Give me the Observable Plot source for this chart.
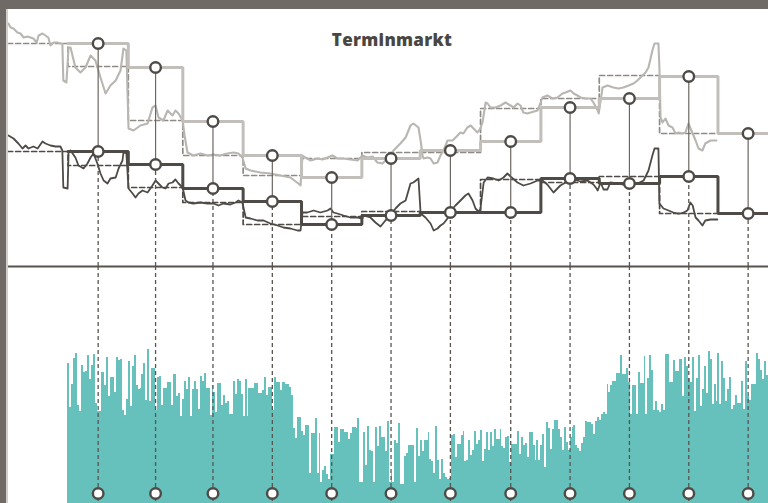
<!DOCTYPE html>
<html>
<head>
<meta charset="utf-8">
<script src="https://cdn.jsdelivr.net/npm/d3@7"></script>
<script src="https://cdn.jsdelivr.net/npm/@observablehq/plot@0.6"></script>
<style>
  html, body { margin: 0; padding: 0; }
  body { width: 768px; height: 503px; background: #6f6a65; position: relative; overflow: hidden; }
  #panel { position: absolute; left: 6px; top: 9px; width: 762px; height: 494px; background: #fff;
           border-left: 2px solid #d2cfcb; box-sizing: border-box; overflow: hidden; }
  #upper { position: absolute; left: 0; top: 0; }
  #lower { position: absolute; left: 0; top: 257px; }
  #title { position: absolute; top: 22px; left: 384px; transform: translateX(-50%);
           font-family: "Open Sans", Lato, sans-serif; font-weight: 800; font-size: 17px; line-height: 17px;
           color: #4a4642; white-space: nowrap; letter-spacing: 0.3px; }
</style>
</head>
<body>
<div id="panel">
  <div id="lower"></div>
  <div id="upper"></div>
  <div id="title">Terminmarkt</div>
</div>
<script>
const YEAR = 2019;
// ---- monthly values, Jan..Dec (thick steps) ----
const lightSpot    = [111.5, 99.5, 72.5, 55.5, 44.5, 54, 58, 62.5, 79.5, 84, 95, 66.5];
const darkSpot     = [57.5, 51, 39, 32.5, 21, 25.5, 27, 27, 44, 41.5, 45, 26.5];
// forward (dashed) prices, traded in the month before: Dec(prev)..Nov
const lightForward = [111.5, 100, 73, 55.5, 45.5, 54, 57, 57, 79, 84, 95.5, 66.5];
const darkForward  = [57.5, 50.5, 39.5, 32, 21, 25, 27.5, 27, 43.5, 42, 45, 26.5];

// ---- daily price traces [days since 1 Jan, price] ----
const lightDaily = [[-30.6,121.5],[-29.5,119.5],[-28.0,119],[-26.0,117],[-24.4,116.5],[-22.8,114.5],[-20.8,115],[-19.3,114.5],[-17.8,114],[-16.1,112],[-15.1,115.5],[-13.1,116.5],[-11.6,115.5],[-10.1,114.5],[-9.0,110.5],[-7.4,112],[-5.4,112],[-3.9,111.5],[-2.9,111.5],[-2.4,93],[-0.8,92],[0.3,109.5],[1.3,109.5],[3.8,99.5],[6.4,97],[9.0,99.5],[11.6,105.5],[14.1,103],[16.7,94.5],[19.3,86.5],[21.8,90.5],[24.5,93],[27.0,98],[28.5,109],[30.0,108],[31.1,69],[33.7,68],[37.2,70.5],[40.9,71.5],[43.4,79.5],[45.0,80.5],[46.5,74.5],[49.0,73],[51.2,78],[53.7,75.5],[55.2,78],[56.8,76.5],[58.9,73],[59.9,65.5],[61.4,57],[64.4,55.5],[68.1,56.5],[71.7,55.5],[74.8,56],[78.3,55.5],[81.9,56.5],[85.1,57],[87.6,56.5],[89.6,54.5],[91.3,49],[93.8,48],[98.9,47],[104.0,46.5],[109.2,45.5],[114.3,44.5],[118.4,41.5],[119.5,40.5],[120.5,55.5],[122.0,54.5],[124.7,53],[128.2,54],[130.8,53.5],[133.4,54.5],[135.9,55.5],[138.4,54],[141.6,54],[145.1,53.5],[148.8,53],[151.3,55.5],[153.9,54.5],[156.5,55],[159.0,52],[161.6,51.5],[164.2,54],[167.3,58],[170.8,61.5],[173.5,64.5],[176.0,70.5],[177.5,71.5],[180.1,69.5],[181.2,63],[182.2,55.5],[182.7,54],[184.7,54.5],[186.3,54],[187.9,51.5],[189.9,52],[191.4,55.5],[193.0,58],[195.0,63],[197.6,63],[200.2,65.5],[201.7,67],[203.2,66.5],[205.2,69.5],[206.9,70.5],[208.4,69],[210.4,67],[211.9,69],[213.0,72],[214.6,82],[215.6,81.5],[217.1,79.5],[219.6,79.5],[222.3,80.5],[224.8,82],[227.4,80.5],[229.0,79.5],[231.0,81.5],[232.5,80.5],[234.0,77],[236.1,76.5],[237.7,77],[241.3,78],[243.8,84.5],[246.3,85.5],[249.0,84],[251.5,84.5],[254.1,86.5],[255.7,87],[258.2,88],[259.8,86.5],[261.8,85.5],[263.4,84.5],[265.9,84],[268.5,84],[270.0,82],[272.2,78],[272.7,76.5],[273.7,83],[274.7,89.5],[277.2,90.5],[280.3,89.5],[282.9,89],[285.4,89.5],[288.1,90.5],[290.6,91.5],[292.6,93],[295.2,95.5],[296.8,97],[298.3,99.5],[300.3,108],[301.4,111.5],[303.4,111.5],[303.9,99.5],[304.5,74.5],[305.5,72],[307.0,74],[308.6,70.5],[310.6,69.5],[312.2,66.5],[313.7,67],[315.8,66.5],[317.3,67],[318.8,71.5],[321.0,66.5],[322.5,63],[324.0,59],[326.0,58],[327.5,61.5],[330.2,63],[333.2,63]];

const darkDaily = [[-30.6,65.5],[-28.0,64],[-25.5,61.5],[-23.4,59],[-21.8,60.5],[-20.3,59],[-17.8,60],[-15.6,59],[-13.1,62.5],[-11.6,61.5],[-9.0,60.5],[-6.4,60],[-3.9,60],[-2.9,58],[-2.4,39.5],[-0.2,39],[0.3,57],[1.3,58],[3.8,54.5],[5.4,50.5],[8.0,49],[10.0,51.5],[11.6,54.5],[13.1,56.5],[15.1,51.5],[16.7,46.5],[18.3,43],[20.3,41.5],[21.8,44],[24.5,44.5],[26.0,49],[28.0,53],[28.5,57],[30.0,56.5],[31.1,39],[33.2,36.5],[34.7,34.5],[36.2,36.5],[38.3,38],[40.9,37],[43.4,40.5],[45.0,43],[46.5,41.5],[48.5,39.5],[50.1,39],[51.7,41.5],[53.7,42],[55.2,43.5],[56.8,41.5],[58.9,39.5],[60.4,33],[61.9,32],[64.4,31.5],[68.1,32],[71.7,31.5],[74.8,31.5],[77.3,30.5],[79.9,31.5],[83.5,31],[86.1,32],[87.6,33],[89.6,32],[91.3,24.5],[93.8,24],[97.3,23],[100.5,23],[104.0,21.5],[107.7,20.5],[110.7,19.5],[114.3,19],[117.9,18],[119.5,18],[120.5,27],[123.0,27],[126.2,28],[129.7,27],[133.4,28],[134.9,29],[136.4,27],[138.4,26.5],[141.6,25.5],[145.1,24.5],[148.8,24.5],[151.3,24],[151.8,25.5],[155.4,24.5],[158.0,22],[160.6,20],[163.1,23],[165.8,25.5],[168.3,29],[170.8,31.5],[173.5,33],[176.0,41.5],[177.5,42],[180.1,44],[181.2,26.5],[183.7,24.5],[186.3,21.5],[187.9,18],[189.9,19],[191.4,20.5],[193.0,21.5],[195.0,24],[196.5,27.5],[199.1,30.5],[201.7,33],[204.2,35.5],[205.8,36.5],[207.9,33],[209.4,29],[210.9,27.5],[211.9,28.5],[213.6,42],[215.6,44.5],[218.6,44],[221.3,43],[223.8,44.5],[225.8,46.5],[227.4,45],[231.0,42],[234.0,40.5],[237.7,41.5],[241.3,43],[243.8,43],[246.3,41],[247.9,39],[249.5,37],[251.5,39],[253.0,40.5],[256.7,42.5],[259.8,43.5],[263.4,42.5],[267.0,43],[270.0,41],[271.6,39],[272.2,38],[273.7,42],[275.2,38.5],[277.2,38.5],[278.7,42],[282.4,41.5],[285.4,41],[289.1,41],[292.6,41.5],[295.8,43],[298.3,48],[300.3,55.5],[301.4,59],[303.4,59],[303.9,31.5],[306.0,29],[308.6,28],[311.1,27],[313.2,26.5],[314.7,26.5],[316.3,27],[318.3,28],[319.8,32],[321.0,30.5],[322.5,24.5],[324.0,23],[326.0,20.5],[327.5,23],[330.2,23.5],[333.7,23.5]];

// ---- daily traded volume, one array per calendar month ----
const volJan = [140,96,119,145,150,98,92,138,131,132,148,124,138,149,100,92,92,131,131,118,146,107,126,126,111,146,143,144,93,88,104];
const volFeb = [142,97,137,148,118,114,115,129,140,103,154,102,135,135,93,126,127,98,115,115,121,121,98,129,129,107,110,87];
const volMar = [104,122,114,126,87,114,122,114,94,127,122,130,115,115,88,118,111,91,120,120,98,108,100,102,89,89,122,109,124,122,109];
const volApr = [87,124,87,115,115,115,120,120,110,110,113,126,108,116,116,93,126,121,121,113,121,121,119,119,116,108,75,65,86,86];
const volMay = [72,68,78,78,30,70,70,85,30,70,21,33,37,29,24,49,49,76,76,61,74,74,71,71,64,70,76,76,75,85,21];
const volJun = [21,71,38,77,53,52,21,76,57,77,66,66,52,82,21,30,21,63,60,80,19,19,47,50,58,58,58,21,75,47];
const volJul = [63,52,63,63,71,44,42,30,77,43,24,44,30,26,24,25,68,69,46,59,59,68,72,42,43,63,48,53,72,59,63];
const volAug = [73,42,54,71,53,71,57,74,64,64,74,57,55,66,67,41,59,59,59,72,49,66,58,60,46,71,71,58,43,63,43];
const volSep = [58,69,36,81,75,54,74,83,83,74,66,53,76,61,53,66,76,78,58,55,52,60,66,82,81,81,79,69,82,86];
const volOct = [83,89,91,89,119,111,118,122,122,130,130,148,129,129,135,121,89,118,118,89,131,120,120,147,89,125,148,133,93,102,93];
const volNov = [91,99,93,149,149,121,121,143,132,132,144,144,107,146,137,125,121,146,92,125,148,97,114,137,110,152,144,99,119,102];
const volDec = [150,99,142,125,102,114,126,94,98,108,100,100,122,94,142,107,103,119,119,119,150,144,133,124,142,128,120];

// ---- styling ----
const LIGHT = "#c2bfbb", LIGHT_THIN = "#b9b6b2", LIGHT_DASH = "#8e8a85";
const DARK = "#4e4a46", RULE = "#57524d", TEAL = "#66c0bb";
const DAY = 864e5;
const jan1 = Date.UTC(YEAR, 0, 1);
const toDate = d => new Date(jan1 + d * DAY);

// ---- derived tables ----
const months = lightSpot.map((v, i) => {
  const s = Date.UTC(YEAR, i, 1), e = Date.UTC(YEAR, i + 1, 1);
  return {mid: new Date((s + e) / 2), light: v, dark: darkSpot[i]};
});
function steps(values, firstMonth) {
  const pts = values.map((v, i) => ({d: new Date(Date.UTC(YEAR, firstMonth + i, 1)), v}));
  pts.push({d: new Date(Date.UTC(YEAR, firstMonth + values.length, 1)), v: values[values.length - 1]});
  return pts;
}
const volumes = [volJan, volFeb, volMar, volApr, volMay, volJun, volJul, volAug, volSep, volOct, volNov, volDec]
  .flatMap((arr, m) => arr.map((v, i) => ({d: new Date(Date.UTC(YEAR, m, i + 1)), v})));

const xScale = {type: "utc", domain: [new Date(Date.UTC(YEAR - 1, 11, 1)), new Date(Date.UTC(YEAR + 1, 0, 1))],
                range: [-0.83, 769.8], axis: null};

const upper = Plot.plot({
  width: 760, height: 262,
  marginTop: 0, marginRight: 0, marginBottom: 0, marginLeft: 0,
  style: {background: "transparent", overflow: "visible"},
  x: xScale,
  y: {domain: [0, 128.5], range: [257, 0], axis: null},
  marks: [
    Plot.ruleY([0], {stroke: RULE, strokeWidth: 2}),
    Plot.line(steps(lightForward, -1), {x: "d", y: "v", curve: "step-after", stroke: LIGHT_DASH, strokeWidth: 1.7, strokeDasharray: "5,3", clip: true}),
    Plot.line(steps(darkForward, -1), {x: "d", y: "v", curve: "step-after", stroke: DARK, strokeWidth: 1.7, strokeDasharray: "5,3", clip: true}),
    Plot.line(lightDaily, {x: d => toDate(d[0]), y: d => d[1], stroke: LIGHT_THIN, strokeWidth: 2.1, clip: true}),
    Plot.line(darkDaily, {x: d => toDate(d[0]), y: d => d[1], stroke: DARK, strokeWidth: 1.8, clip: true}),
    Plot.line(steps(lightSpot, 0), {x: "d", y: "v", curve: "step-after", stroke: LIGHT, strokeWidth: 3, clip: true, strokeLinejoin: "miter"}),
    Plot.line(steps(darkSpot, 0), {x: "d", y: "v", curve: "step-after", stroke: DARK, strokeWidth: 3, clip: true, strokeLinejoin: "miter"}),
    Plot.ruleX(months, {x: "mid", y: "dark", stroke: "#5a5550", strokeWidth: 1.3, strokeDasharray: "4,3"}),
    Plot.ruleX(months, {x: "mid", y1: "dark", y2: "light", stroke: "#6b6661", strokeWidth: 1.2}),
    Plot.dot(months, {x: "mid", y: "light", r: 5.3, fill: "#fff", stroke: DARK, strokeWidth: 2.4}),
    Plot.dot(months, {x: "mid", y: "dark", r: 5.3, fill: "#fff", stroke: DARK, strokeWidth: 2.4})
  ]
});

const lower = Plot.plot({
  width: 760, height: 237,
  marginTop: 0, marginRight: 0, marginBottom: 0, marginLeft: 0,
  style: {background: "transparent"},
  x: xScale,
  y: {domain: [0, 237], range: [237, 0], axis: null},
  marks: [
    Plot.rectY(volumes, {x1: "d", x2: d => new Date(+d.d + DAY), y: "v", fill: TEAL, shapeRendering: "crispEdges", clip: true}),
    Plot.ruleX(months, {x: "mid", stroke: "#5a5550", strokeWidth: 1.3, strokeDasharray: "4,3"}),
    Plot.dot(months, {x: "mid", frameAnchor: "bottom", dy: -10, r: 5.3, fill: "#fff", stroke: DARK, strokeWidth: 2.4})
  ]
});

document.getElementById("upper").appendChild(upper);
document.getElementById("lower").appendChild(lower);
</script>
</body>
</html>
